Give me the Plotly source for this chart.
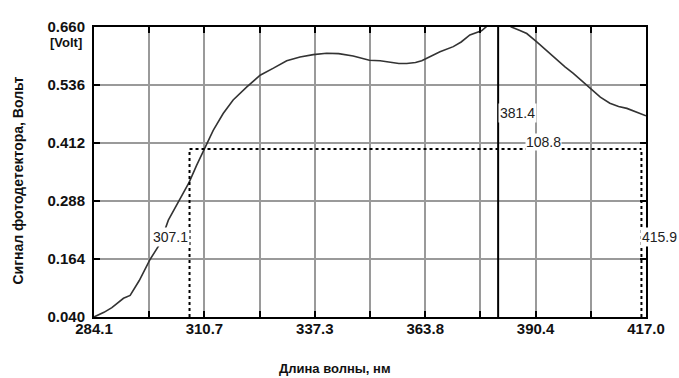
import plotly.graph_objects as go

# ---- data ----
wavelength = [284.1, 286.5, 288.4, 291.2, 292.8, 295.0, 297.6, 300.0, 302.0, 304.5,
              307.0, 308.8, 310.7, 312.8, 315.2, 317.6, 320.9, 324.1, 327.3, 330.5,
              333.7, 336.9, 340.1, 343.0, 346.5, 350.4, 353.0, 355.4, 357.5, 359.4,
              361.5, 363.0, 365.0, 367.4, 370.6, 372.5, 374.6, 377.4, 379.0, 381.4,
              383.0, 384.6, 386.5, 388.3, 390.7, 393.0, 395.5, 397.5, 399.5, 401.5,
              403.5, 406.0, 408.3, 410.4, 412.4, 414.5, 417.0]
signal = [0.040, 0.050, 0.060, 0.080, 0.086, 0.118, 0.163, 0.197, 0.247, 0.288,
          0.328, 0.364, 0.400, 0.439, 0.475, 0.504, 0.532, 0.557, 0.572, 0.588,
          0.596, 0.601, 0.604, 0.603, 0.598, 0.589, 0.588, 0.584, 0.582, 0.582,
          0.584, 0.588, 0.596, 0.607, 0.618, 0.628, 0.643, 0.652, 0.664, 0.672,
          0.669, 0.660, 0.653, 0.646, 0.628, 0.610, 0.589, 0.575, 0.561, 0.545,
          0.529, 0.510, 0.497, 0.490, 0.486, 0.479, 0.470]

x_grid = [284.1, 297.39, 310.68, 323.97, 337.26, 350.55, 363.84, 377.13, 390.42, 403.71, 417.0]
x_labels = ["284.1", "", "310.7", "", "337.3", "", "363.8", "", "390.4", "", "417.0"]
y_ticks = [0.040, 0.164, 0.288, 0.412, 0.536, 0.660]
y_labels = ["0.040", "0.164", "0.288", "0.412", "0.536", "0.660"]

cursor_x = 381.4
left_x = 307.1
right_x = 415.9
level_y = 0.399
width_label = "108.8"

x_title = "Длина волны, нм"
y_title = "Сигнал фотодетектора, Вольт"
unit_label = "[Volt]"

FONT = "Liberation Sans, Arial, sans-serif"

fig = go.Figure()
fig.add_trace(go.Scatter(x=wavelength, y=signal, mode="lines",
                         line=dict(color="#333333", width=1.6), showlegend=False,
                         hoverinfo="skip"))

y0, y1 = y_ticks[0], y_ticks[-1]
dot = dict(color="black", width=2, dash="3px,3px")
shapes = [
    dict(type="line", xref="x", yref="y", x0=left_x, x1=right_x, y0=level_y, y1=level_y, line=dot),
    dict(type="line", xref="x", yref="y", x0=left_x, x1=left_x, y0=y0, y1=level_y, line=dot),
    dict(type="line", xref="x", yref="y", x0=right_x, x1=right_x, y0=y0, y1=level_y, line=dot),
    dict(type="line", xref="x", yref="y", x0=cursor_x, x1=cursor_x, y0=y0, y1=y1,
         line=dict(color="black", width=2)),
]

lab_font = dict(family=FONT, size=14, color="#222222")
annotations = [
    dict(x=cursor_x, y=0.476, xref="x", yref="y", text=f"{cursor_x:.1f}", showarrow=False,
         xanchor="left", yanchor="middle", bgcolor="white", font=lab_font, borderpad=1),
    dict(x=392.3, y=0.414, xref="x", yref="y", text=width_label, showarrow=False,
         xanchor="center", yanchor="middle", bgcolor="white", font=lab_font, borderpad=0),
    dict(x=left_x, y=0.211, xref="x", yref="y", text=f"{left_x:.1f}", showarrow=False,
         xanchor="right", yanchor="middle", bgcolor="white", font=lab_font, borderpad=1),
    dict(x=right_x - 0.3, y=0.210, xref="x", yref="y", text=f"{right_x:.1f}", showarrow=False,
         xanchor="left", yanchor="middle", bgcolor="white", font=lab_font, borderpad=1),
    dict(x=-0.0833, y=0.945, xref="paper", yref="paper", text=unit_label, showarrow=False,
         xanchor="left", yanchor="middle",
         font=dict(family=FONT, size=13, color="#111111", weight="bold")),
    dict(x=-0.138, y=0.47, xref="paper", yref="paper", text=y_title, showarrow=False,
         textangle=-90, xanchor="center", yanchor="middle",
         font=dict(family=FONT, size=14, color="#111111", weight="bold")),
    dict(x=0.437, y=-0.178, xref="paper", yref="paper", text=x_title, showarrow=False,
         xanchor="center", yanchor="middle",
         font=dict(family=FONT, size=13, color="#111111", weight="bold")),
]

axis_common = dict(showline=True, linecolor="black", linewidth=2, mirror="ticks",
                   ticks="inside", ticklen=6, tickwidth=2, tickcolor="black",
                   showgrid=True, gridcolor="#9a9a9a", gridwidth=1.5, zeroline=False,
                   tickfont=dict(family=FONT, size=15, color="#111111", weight="bold"))

fig.update_xaxes(range=[x_grid[0], x_grid[-1]], tickvals=x_grid, ticktext=x_labels,
                 ticklabelstandoff=-3, **axis_common)
fig.update_yaxes(range=[y0, y1], tickvals=y_ticks, ticktext=y_labels,
                 ticklabelstandoff=4, **axis_common)

fig.update_layout(width=679, height=378, margin=dict(l=94, r=33, t=27, b=61),
                  paper_bgcolor="white", plot_bgcolor="white",
                  shapes=shapes, annotations=annotations, showlegend=False)

fig.write_html("out.html")
